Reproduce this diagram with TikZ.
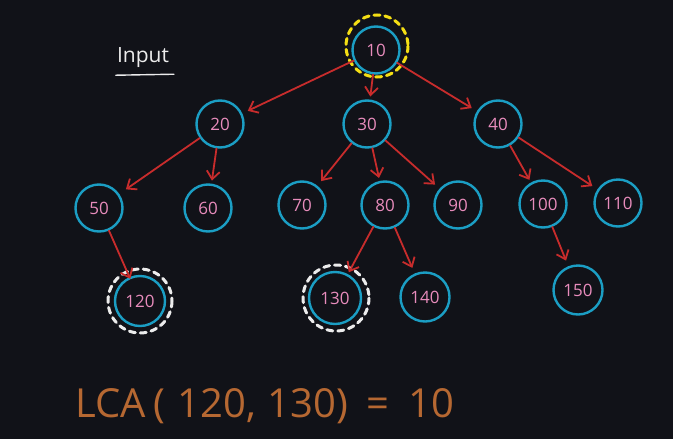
\documentclass[tikz,border=0pt]{standalone}
\usepackage{fontspec}
\setmainfont{Open Sans}
\usetikzlibrary{arrows.meta}
\definecolor{bgdark}{RGB}{17,18,24}
\definecolor{ringcyan}{RGB}{27,158,196}
\definecolor{labelpink}{RGB}{232,140,188}
\definecolor{edgered}{RGB}{200,44,44}
\definecolor{markyellow}{RGB}{244,222,20}
\definecolor{markwhite}{RGB}{236,236,236}
\definecolor{notebrown}{RGB}{182,104,50}
\tikzset{
  treenode/.style={circle, draw=ringcyan, line width=2.4pt, minimum size=47pt,
    inner sep=0pt, text=labelpink, font=\fontsize{17}{17}\selectfont},
  edge/.style={draw=edgered, line width=1.8pt, line cap=round,
    -{Straight Barb[length=8pt,width=13pt,line width=1.8pt]}, shorten >=3pt},
  ring/.style={line width=3pt, dash pattern=on 6pt off 5pt, line cap=round}
}
\begin{document}
\begin{tikzpicture}[x=1pt,y=-1pt]
  % canvas
  \fill[bgdark] (0,0) rectangle (676,439);
  \fill[white] (673,0) rectangle (676,439);
  \useasboundingbox (0,0) rectangle (676,439);

  % tree nodes
  \node[treenode] (n10)  at (376,50)  {10};
  \node[treenode] (n20)  at (220,124) {20};
  \node[treenode] (n30)  at (367,124) {30};
  \node[treenode] (n40)  at (498,124) {40};
  \node[treenode] (n50)  at (99,208)  {50};
  \node[treenode] (n60)  at (208,208) {60};
  \node[treenode] (n70)  at (302,205) {70};
  \node[treenode] (n80)  at (385,205) {80};
  \node[treenode] (n90)  at (458,205) {90};
  \node[treenode] (n100) at (543,204) {100};
  \node[treenode] (n110) at (618,203) {110};
  \node[treenode, minimum size=50pt] (n120) at (140,301) {120};
  \node[treenode, minimum size=52pt] (n130) at (335,298) {130};
  \node[treenode, minimum size=49pt] (n140) at (425,297) {140};
  \node[treenode, minimum size=49pt] (n150) at (578,290) {150};

  % highlighted nodes
  \draw[ring, markyellow] (n10.center) ++(1,-4) circle[radius=31];
  \draw[ring, markwhite] (n120.center) circle[radius=32];
  \draw[ring, markwhite] (n130.center) ++(1,0) circle[radius=33];

  % edges
  \draw[edge, shorten >=6pt] (n10)  -- (n20);
  \draw[edge] (n10)  -- (n30);
  \draw[edge, shorten >=6pt] (n10)  -- (n40);
  \draw[edge, shorten >=8pt] (n20)  -- (n50);
  \draw[edge] (n20)  -- (n60);
  \draw[edge, shorten >=6pt] (n30)  -- (n70);
  \draw[edge] (n30)  -- (n80);
  \draw[edge, shorten >=6pt] (n30)  -- (n90);
  \draw[edge] (n40)  -- (n100);
  \draw[edge, shorten >=6pt] (n40)  -- (n110);
  \draw[edge, shorten >=-2pt] (n50) -- (n120);
  \draw[edge, shorten >=2pt] (n80)  -- (n130);
  \draw[edge, shorten >=6pt] (n80)  -- (n140);
  \draw[edge, shorten >=6pt] (n100) -- (n150);

  % caption and result
  \node[text=markwhite, font=\fontsize{21}{21}\selectfont, inner sep=0pt] (inp) at (143,58) {Input};
  \draw[markwhite, line width=1.4pt, line cap=round] (inp.south west) ++(-1,7) -- ++(58,-1);
  \node[text=notebrown, font=\fontsize{40}{40}\selectfont, anchor=base west, inner sep=0pt]
    (lca) at (75,417) {LCA\hspace{8pt}(\hspace{12pt}120,\hspace{12pt}130)\hspace{18pt}=\hspace{19pt}10};
\end{tikzpicture}
\end{document}
